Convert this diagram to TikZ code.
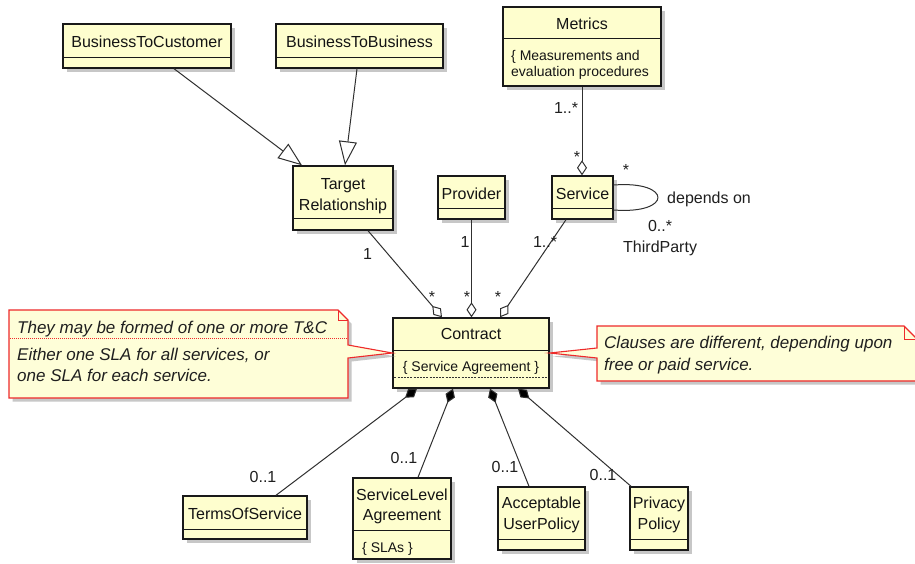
\documentclass[tikz,border=0pt]{standalone}
\usepackage{fontspec}
\setmainfont{Liberation Sans}
\usetikzlibrary{arrows.meta,shadows,calc}
\definecolor{clsfill}{HTML}{FEFECE}
\definecolor{notefill}{HTML}{FEFED8}
\definecolor{notered}{HTML}{EE2A2A}
\definecolor{lnk}{HTML}{303030}
\newcommand\clsdiv[2]{\draw[divline] ($(#1.north west)+(0,#2)$) -- ($(#1.north east)+(0,#2)$);}
\begin{document}
\begin{tikzpicture}[x=1pt,y=-1pt,
  shad/.style={drop shadow={shadow xshift=3.5pt,shadow yshift=-3.5pt,fill=black!55,opacity=0.4}},
  cls/.style={draw=black!90,line width=1.4pt,fill=clsfill,rectangle,inner sep=0pt,shad},
  divline/.style={draw=black!90,line width=1.3pt},
  cname/.style={anchor=base,inner sep=0pt,font=\fontsize{16}{19}\selectfont,text=black!92},
  attr/.style={anchor=base west,inner sep=0pt,font=\fontsize{14}{17}\selectfont,text=black!92},
  lbl/.style={anchor=base,inner sep=0pt,font=\fontsize{16}{19}\selectfont,text=black!88},
  notetxt/.style={anchor=base west,inner sep=0pt,font=\fontsize{17}{20}\selectfont\itshape,text=black!88},
  notebox/.style={draw=notered,line width=1.1pt,fill=notefill,line join=miter,shad},
  conn/.style={draw=lnk,line width=1pt},
  gen/.style={conn,-{Triangle[length=24pt,width=18pt,fill=white]}},
  agg/.style={conn,-{Diamond[length=15pt,width=10pt,fill=white]}},
  comp/.style={conn,{Diamond[length=15pt,width=10pt,fill=black]}-}]
\useasboundingbox (0,0) rectangle (915,563);
\fill[white] (0,0) rectangle (915,563);

% class boxes
\node[cls,minimum width=168pt,minimum height=44pt] (b2c) at (147,46) {};
\node[cls,minimum width=167pt,minimum height=44pt] (b2b) at (359.5,46) {};
\node[cls,minimum width=158pt,minimum height=79pt] (metrics) at (582,46.5) {};
\node[cls,minimum width=100pt,minimum height=64pt] (tr) at (343,198) {};
\node[cls,minimum width=67pt,minimum height=43pt] (prov) at (471.5,197.5) {};
\node[cls,minimum width=61pt,minimum height=43pt] (svc) at (582.5,197.5) {};
\node[cls,minimum width=156pt,minimum height=70pt] (contract) at (471,353) {};
\node[cls,minimum width=124pt,minimum height=43pt] (tos) at (245,517.5) {};
\node[cls,minimum width=98pt,minimum height=81pt] (sla) at (402,518.5) {};
\node[cls,minimum width=87pt,minimum height=63pt] (aup) at (541.5,518.5) {};
\node[cls,minimum width=58pt,minimum height=63pt] (pp) at (659,518.5) {};

% compartments
\clsdiv{b2c}{34}
\clsdiv{b2b}{34}
\clsdiv{metrics}{32}
\clsdiv{tr}{53}
\clsdiv{prov}{33}
\clsdiv{svc}{33}
\clsdiv{contract}{33}
\draw[draw=black!80,line width=0.6pt,dash pattern=on 2pt off 1.2pt] ($(contract.north west)+(2,60)$) -- ($(contract.north east)+(-2,60)$);
\clsdiv{tos}{34}
\clsdiv{sla}{53}
\clsdiv{aup}{53}
\clsdiv{pp}{53}

% class texts
\node[cname] (b2c-t) at (147,47) {BusinessToCustomer};
\node[cname] (b2b-t) at (359.5,47) {BusinessToBusiness};
\node[cname] (metrics-t) at (582,29) {Metrics};
\node[attr] (metrics-a1) at (511,60) {\{ Measurements and};
\node[attr] (metrics-a2) at (511,76) {evaluation procedures};
\node[cname] (tr-t1) at (343,189) {Target};
\node[cname] (tr-t2) at (343,210) {Relationship};
\node[cname] (prov-t) at (471.5,199) {Provider};
\node[cname] (svc-t) at (582.5,199) {Service};
\node[cname] (contract-t) at (471,339) {Contract};
\node[attr,anchor=base] (contract-a) at (471,371) {\{ Service Agreement \}};
\node[cname] (tos-t) at (245,519.5) {TermsOfService};
\node[cname] (sla-t1) at (402,500) {ServiceLevel};
\node[cname] (sla-t2) at (402,520) {Agreement};
\node[attr] (sla-a) at (362,552) {\{ SLAs \}};
\node[cname] (aup-t1) at (541.5,508) {Acceptable};
\node[cname] (aup-t2) at (541.5,529) {UserPolicy};
\node[cname] (pp-t1) at (659,508) {Privacy};
\node[cname] (pp-t2) at (659,529) {Policy};

% notes
\path[notebox] (9,310) -- (338,310) -- (348,320) -- (348,345) -- (contract.west) -- (348,358) -- (348,398) -- (9,398) -- cycle;
\draw[notered,line width=1pt] (338,310) -- (338,320) -- (348,320);
\draw[notered,line width=0.6pt,dash pattern=on 1pt off 1pt] (10,338) -- (347,338);
\node[notetxt] (n1-a) at (17,333) {They may be formed of one or more T\&C};
\node[notetxt] (n1-b) at (17,360) {Either one SLA for all services, or};
\node[notetxt] (n1-c) at (17,381) {one SLA for each service.};

\path[notebox] (597,326) -- (904,326) -- (917,339) -- (917,381) -- (597,381) -- (597,358) -- (contract.east) -- (597,348) -- cycle;
\draw[notered,line width=1pt] (904,326) -- (904,339) -- (917,339);
\node[notetxt] (n2-a) at (604,348) {Clauses are different, depending upon};
\node[notetxt] (n2-b) at (604,370) {free or paid service.};

% generalisations
\draw[gen] ($(b2c.south)+(27,0)$) -- ($(tr.north)+(-41,0)$);
\draw[gen] ($(b2b.south)+(-2.5,0)$) -- ($(tr.north)+(2,0)$);

% aggregations
\draw[agg] ($(tr.south)+(25,0)$) -- ($(contract.north)+(-29,0)$);
\draw[agg] (prov.south) -- ($(contract.north)+(0.5,0)$);
\draw[agg] ($(svc.south)+(-16.5,0)$) -- ($(contract.north)+(29,0)$);
\draw[agg] (metrics.south) -- (metrics.south |- svc.north);
\draw[conn] ($(svc.east)+(0,-12.5)$) .. controls ($(svc.east)+(59,-17)$) and ($(svc.east)+(59,17)$) .. ($(svc.east)+(0,12.5)$);

% compositions
\draw[comp] ($(contract.south)+(-54,0)$) -- ($(tos.north)+(31,0)$);
\draw[comp] ($(contract.south)+(-18,0)$) -- ($(sla.north)+(16,0)$);
\draw[comp] ($(contract.south)+(19,0)$) -- ($(aup.north)+(-12.5,0)$);
\draw[comp] ($(contract.south)+(47,0)$) -- ($(pp.north)+(-28,0)$);

% labels
\node[lbl] (l-tr1) at (367.5,259) {1};
\node[lbl] (l-tr2) at (432,302) {*};
\node[lbl] (l-pr1) at (465,247) {1};
\node[lbl] (l-pr2) at (467,302) {*};
\node[lbl] (l-sv1) at (545,247) {1..*};
\node[lbl] (l-sv2) at (498,302) {*};
\node[lbl] (l-me1) at (566,113) {1..*};
\node[lbl] (l-me2) at (577,162) {*};
\node[lbl] (l-dep1) at (626,175) {*};
\node[lbl,anchor=base west] (l-dep) at (667,203) {depends on};
\node[lbl] (l-dep2) at (660,231) {0..*};
\node[lbl,anchor=base west] (l-dep3) at (623,252) {ThirdParty};
\node[lbl] (l-tos) at (263,482) {0..1};
\node[lbl] (l-sla) at (404,463) {0..1};
\node[lbl] (l-aup) at (505,472) {0..1};
\node[lbl] (l-pp) at (603,480) {0..1};
\end{tikzpicture}
\end{document}
